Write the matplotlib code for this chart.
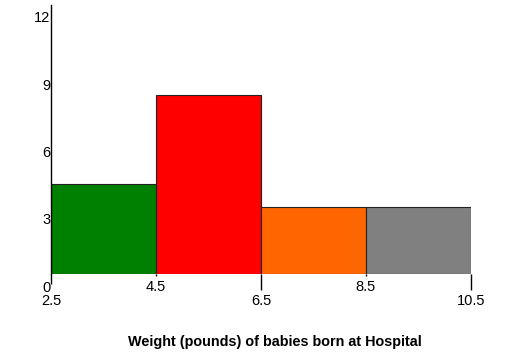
import matplotlib
matplotlib.use('Agg')
import matplotlib.pyplot as plt
import matplotlib.transforms as mtransforms

plt.rcParams['font.family'] = ['Liberation Sans', 'DejaVu Sans']

# 数据
bin_edges = [2.5, 4.5, 6.5, 8.5, 10.5]
counts = [4, 8, 3, 3]
bar_colors = ['#008000', '#ff0000', '#ff6600', '#808080']
y_ticks = [0, 3, 6, 9, 12]
x_tick_labels = ['2.5', '4.5', '6.5', '8.5', '10.5']
title = 'Weight (pounds) of babies born at Hospital'

W, H = 529, 355
fig = plt.figure(figsize=(W / 100, H / 100), dpi=100)
ax = fig.add_axes([51 / W, (H - 274) / H, (471 - 51) / W, (274 - 5) / H])

lefts = bin_edges[:-1]
widths = [b - a for a, b in zip(bin_edges[:-1], bin_edges[1:])]
ax.bar(lefts, counts, width=widths, align='edge', color=bar_colors,
       edgecolor='#222222', linewidth=0.8)

ax.set_xlim(bin_edges[0], bin_edges[-1])
ax.set_ylim(0, 12)

for s in ['top', 'right', 'bottom']:
    ax.spines[s].set_visible(False)
ax.spines['left'].set_linewidth(1.0)

# y 轴刻度: 标签向下偏移
ax.set_yticks(y_ticks)
ax.set_yticklabels([str(v) for v in y_ticks], fontsize=10.5)
ax.tick_params(axis='y', length=0, pad=0.5)
off_y = mtransforms.ScaledTranslation(0, -12 / 100, fig.dpi_scale_trans)
for lab in ax.get_yticklabels():
    lab.set_transform(lab.get_transform() + off_y)

# x 轴刻度: 交错标签
ax.set_xticks(bin_edges)
ax.set_xticklabels(x_tick_labels, fontsize=10.5)
ax.tick_params(axis='x', pad=1, width=1.0, color='black')
tick_len = [7.5, 1.5, 11.5, 1.5, 11.5]
for t, L in zip(ax.xaxis.get_major_ticks(), tick_len):
    t.tick1line.set_markersize(L)
for i, lab in enumerate(ax.get_xticklabels()):
    dy = 0 if i % 2 == 1 else -14
    lab.set_transform(lab.get_transform() +
                      mtransforms.ScaledTranslation(0, dy / 100, fig.dpi_scale_trans))

fig.text(275 / W, 1 - 342 / H, title, ha='center', va='center',
         fontsize=10.4, fontweight='bold')

fig.savefig('out.png', dpi=100)
